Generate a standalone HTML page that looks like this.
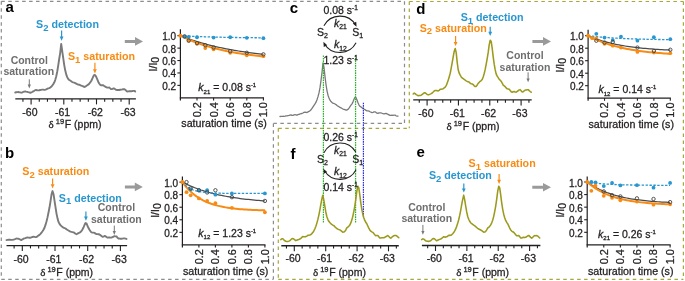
<!DOCTYPE html>
<html><head><meta charset="utf-8"><style>
html,body{margin:0;padding:0;background:#fff;}
svg{display:block;will-change:transform;font-family:"Liberation Sans", sans-serif;}
text:not([font-weight="bold"]){stroke:#231f20;stroke-width:0.28px;}
</style></head><body>
<svg xmlns="http://www.w3.org/2000/svg" width="685" height="281" viewBox="0 0 685 281">
<rect width="685" height="281" fill="#fff"/>
<line x1="1.3" y1="1.3" x2="404.5" y2="1.3" stroke="#8c8c8c" stroke-width="1.2" stroke-dasharray="3.5 3.45"/>
<line x1="1.3" y1="1.3" x2="1.3" y2="279.3" stroke="#8c8c8c" stroke-width="1.2" stroke-dasharray="3.5 3.45"/>
<line x1="404.5" y1="1.3" x2="404.5" y2="123.4" stroke="#8c8c8c" stroke-width="1.2" stroke-dasharray="3.5 3.45"/>
<line x1="273.4" y1="123.4" x2="404.5" y2="123.4" stroke="#8c8c8c" stroke-width="1.2" stroke-dasharray="3.5 3.45"/>
<line x1="273.4" y1="123.4" x2="273.4" y2="279.3" stroke="#8c8c8c" stroke-width="1.2" stroke-dasharray="3.5 3.45"/>
<line x1="1.3" y1="279.3" x2="273.4" y2="279.3" stroke="#8c8c8c" stroke-width="1.2" stroke-dasharray="3.5 3.45"/>
<line x1="409.3" y1="1.5" x2="683.4" y2="1.5" stroke="#aaa73a" stroke-width="1.2" stroke-dasharray="3.5 3.45"/>
<line x1="409.3" y1="1.5" x2="409.3" y2="128.3" stroke="#aaa73a" stroke-width="1.2" stroke-dasharray="3.5 3.45"/>
<line x1="683.4" y1="1.5" x2="683.4" y2="279.4" stroke="#aaa73a" stroke-width="1.2" stroke-dasharray="3.5 3.45"/>
<line x1="278.3" y1="128.3" x2="409.3" y2="128.3" stroke="#aaa73a" stroke-width="1.2" stroke-dasharray="3.5 3.45"/>
<line x1="278.3" y1="128.3" x2="278.3" y2="279.4" stroke="#aaa73a" stroke-width="1.2" stroke-dasharray="3.5 3.45"/>
<line x1="278.3" y1="279.4" x2="683.4" y2="279.4" stroke="#aaa73a" stroke-width="1.2" stroke-dasharray="3.5 3.45"/>
<text x="5.40" y="12.10" font-size="15" font-weight="bold" fill="#000" text-anchor="start">a</text>
<text x="4.90" y="158.00" font-size="15" font-weight="bold" fill="#000" text-anchor="start">b</text>
<text x="289.80" y="12.50" font-size="15" font-weight="bold" fill="#000" text-anchor="start">c</text>
<text x="416.30" y="13.60" font-size="15" font-weight="bold" fill="#000" text-anchor="start">d</text>
<text x="416.40" y="156.60" font-size="15" font-weight="bold" fill="#000" text-anchor="start">e</text>
<text x="290.60" y="158.50" font-size="15" font-weight="bold" fill="#000" text-anchor="start">f</text>
<path d="M15.20,92.52 L16.20,92.30 L17.20,92.08 L18.20,92.00 L19.20,92.27 L20.20,92.39 L21.20,92.69 L22.20,92.47 L23.20,91.99 L24.20,91.59 L25.20,91.33 L26.20,91.62 L27.20,91.88 L28.20,92.18 L29.20,92.44 L30.20,92.71 L31.20,92.52 L32.20,91.99 L33.20,91.35 L34.20,90.81 L35.20,90.19 L36.20,90.00 L37.20,90.24 L38.20,90.37 L39.20,90.21 L40.20,89.97 L41.20,89.86 L42.20,89.62 L43.20,89.65 L44.20,89.88 L45.20,89.74 L46.20,89.31 L47.20,88.82 L48.20,88.38 L49.20,88.06 L50.20,87.59 L51.20,86.78 L52.20,85.64 L53.20,84.27 L54.20,82.53 L55.20,80.12 L56.20,76.50 L57.20,71.75 L58.20,65.69 L59.20,58.99 L60.20,52.86 L61.20,43.88 L62.20,50.94 L63.20,57.86 L64.20,64.87 L65.20,70.33 L66.20,74.39 L67.20,77.13 L68.20,78.95 L69.20,79.97 L70.20,80.55 L71.20,81.23 L72.20,82.00 L73.20,82.44 L74.20,82.69 L75.20,83.04 L76.20,83.57 L77.20,84.14 L78.20,84.57 L79.20,84.76 L80.20,85.04 L81.20,85.53 L82.20,85.99 L83.20,86.42 L84.20,86.97 L85.20,86.66 L86.20,85.93 L87.20,85.28 L88.20,84.68 L89.20,83.75 L90.20,82.45 L91.20,81.00 L92.20,79.01 L93.20,76.59 L94.20,74.88 L95.20,75.18 L96.20,76.84 L97.20,79.16 L98.20,81.68 L99.20,83.50 L100.20,84.81 L101.20,85.41 L102.20,85.23 L103.20,85.24 L104.20,85.99 L105.20,86.57 L106.20,87.17 L107.20,87.61 L108.20,87.66 L109.20,87.57 L110.20,88.38 L111.20,89.16 L112.20,88.95 L113.20,88.51 L114.20,88.57 L115.20,89.21 L116.20,89.82 L117.20,90.02 L118.20,90.03 L119.20,90.01 L120.20,89.78 L121.20,89.59 L122.20,89.45 L123.20,89.21 L124.20,89.12 L125.20,89.76 L126.20,90.65 L127.20,91.46 L128.20,91.34 L129.20,91.21 L130.20,91.18 L131.20,91.23 L132.20,91.14 L133.20,90.84 L134.20,90.85 L135.20,91.42" fill="none" stroke="#7a7a7a" stroke-width="1.9" stroke-linejoin="round" stroke-linecap="round"/>
<line x1="15.3" y1="98.9" x2="135.9" y2="98.9" stroke="#231f20" stroke-width="1.4"/>
<line x1="22.93" y1="98.9" x2="22.93" y2="101.7" stroke="#231f20" stroke-width="1.1"/>
<line x1="31.10" y1="98.9" x2="31.10" y2="104.4" stroke="#231f20" stroke-width="1.1"/>
<line x1="39.27" y1="98.9" x2="39.27" y2="101.7" stroke="#231f20" stroke-width="1.1"/>
<line x1="47.45" y1="98.9" x2="47.45" y2="101.7" stroke="#231f20" stroke-width="1.1"/>
<line x1="55.62" y1="98.9" x2="55.62" y2="101.7" stroke="#231f20" stroke-width="1.1"/>
<line x1="63.80" y1="98.9" x2="63.80" y2="104.4" stroke="#231f20" stroke-width="1.1"/>
<line x1="71.97" y1="98.9" x2="71.97" y2="101.7" stroke="#231f20" stroke-width="1.1"/>
<line x1="80.15" y1="98.9" x2="80.15" y2="101.7" stroke="#231f20" stroke-width="1.1"/>
<line x1="88.32" y1="98.9" x2="88.32" y2="101.7" stroke="#231f20" stroke-width="1.1"/>
<line x1="96.50" y1="98.9" x2="96.50" y2="104.4" stroke="#231f20" stroke-width="1.1"/>
<line x1="104.67" y1="98.9" x2="104.67" y2="101.7" stroke="#231f20" stroke-width="1.1"/>
<line x1="112.85" y1="98.9" x2="112.85" y2="101.7" stroke="#231f20" stroke-width="1.1"/>
<line x1="121.02" y1="98.9" x2="121.02" y2="101.7" stroke="#231f20" stroke-width="1.1"/>
<line x1="129.20" y1="98.9" x2="129.20" y2="104.4" stroke="#231f20" stroke-width="1.1"/>
<text x="29.90" y="115.80" font-size="10.5" font-weight="normal" fill="#231f20" text-anchor="middle">-60</text>
<text x="62.60" y="115.80" font-size="10.5" font-weight="normal" fill="#231f20" text-anchor="middle">-61</text>
<text x="95.30" y="115.80" font-size="10.5" font-weight="normal" fill="#231f20" text-anchor="middle">-62</text>
<text x="128.00" y="115.80" font-size="10.5" font-weight="normal" fill="#231f20" text-anchor="middle">-63</text>
<text x="48.60" y="128.20" font-size="10.5" fill="#231f20"><tspan font-family="Liberation Serif" font-size="11">&#948;</tspan><tspan font-size="7.5" dy="-4" dx="2">19</tspan><tspan dy="4" dx="0.6">F (ppm)</tspan></text>
<text x="36.00" y="28.00" font-size="10.7" font-weight="bold" fill="#2896cf">S<tspan font-size="9.5" dy="2.8">2</tspan><tspan dy="-2.8"> detection</tspan></text>
<line x1="61.6" y1="30.6" x2="61.6" y2="37.099999999999994" stroke="#2896cf" stroke-width="1.2"/>
<path d="M59.70,36.60 L63.50,36.60 L61.60,40.80 Z" fill="#2896cf"/>
<text x="67.90" y="60.30" font-size="10.7" font-weight="bold" fill="#f88b14">S<tspan font-size="9.5" dy="2.8">1</tspan><tspan dy="-2.8"> saturation</tspan></text>
<line x1="94.9" y1="62.8" x2="94.9" y2="69.8" stroke="#f88b14" stroke-width="1.2"/>
<path d="M93.00,69.30 L96.80,69.30 L94.90,73.50 Z" fill="#f88b14"/>
<text x="29.30" y="63.50" font-size="10.5" font-weight="bold" fill="#6e6e6e" text-anchor="middle">Control</text>
<text x="28.80" y="74.70" font-size="10.5" font-weight="bold" fill="#6e6e6e" text-anchor="middle">saturation</text>
<line x1="29.3" y1="79.3" x2="29.3" y2="85.10000000000001" stroke="#777" stroke-width="1.0"/>
<path d="M27.70,84.60 L30.90,84.60 L29.30,88.40 Z" fill="#777"/>
<path d="M124.8,39.9 L135,39.9 L135,37.1 L143,41.4 L135,45.699999999999996 L135,42.9 L124.8,42.9 Z" fill="#9a9a9a"/>
<line x1="180.4" y1="29.299999999999997" x2="180.4" y2="100.39999999999999" stroke="#231f20" stroke-width="1.2"/>
<line x1="179.8" y1="97.8" x2="264.0" y2="97.8" stroke="#231f20" stroke-width="1.2"/>
<line x1="177.4" y1="85.38" x2="180.4" y2="85.38" stroke="#231f20" stroke-width="1.1"/>
<text x="176.10" y="89.88" font-size="10" font-weight="normal" fill="#231f20" text-anchor="end">0.2</text>
<line x1="177.4" y1="72.96" x2="180.4" y2="72.96" stroke="#231f20" stroke-width="1.1"/>
<text x="176.10" y="77.46" font-size="10" font-weight="normal" fill="#231f20" text-anchor="end">0.4</text>
<line x1="177.4" y1="60.54" x2="180.4" y2="60.54" stroke="#231f20" stroke-width="1.1"/>
<text x="176.10" y="65.04" font-size="10" font-weight="normal" fill="#231f20" text-anchor="end">0.6</text>
<line x1="177.4" y1="48.12" x2="180.4" y2="48.12" stroke="#231f20" stroke-width="1.1"/>
<text x="176.10" y="52.62" font-size="10" font-weight="normal" fill="#231f20" text-anchor="end">0.8</text>
<line x1="177.4" y1="35.70" x2="180.4" y2="35.70" stroke="#231f20" stroke-width="1.1"/>
<text x="176.10" y="40.20" font-size="10" font-weight="normal" fill="#231f20" text-anchor="end">1.0</text>
<line x1="197.00" y1="97.8" x2="197.00" y2="100.39999999999999" stroke="#231f20" stroke-width="1.1"/>
<text transform="translate(200.90,102.10) rotate(-90)" font-size="10.9" fill="#231f20" text-anchor="end">0.2</text>
<line x1="213.60" y1="97.8" x2="213.60" y2="100.39999999999999" stroke="#231f20" stroke-width="1.1"/>
<text transform="translate(217.50,102.10) rotate(-90)" font-size="10.9" fill="#231f20" text-anchor="end">0.4</text>
<line x1="230.20" y1="97.8" x2="230.20" y2="100.39999999999999" stroke="#231f20" stroke-width="1.1"/>
<text transform="translate(234.10,102.10) rotate(-90)" font-size="10.9" fill="#231f20" text-anchor="end">0.6</text>
<line x1="246.80" y1="97.8" x2="246.80" y2="100.39999999999999" stroke="#231f20" stroke-width="1.1"/>
<text transform="translate(250.70,102.10) rotate(-90)" font-size="10.9" fill="#231f20" text-anchor="end">0.8</text>
<line x1="263.40" y1="97.8" x2="263.40" y2="100.39999999999999" stroke="#231f20" stroke-width="1.1"/>
<text transform="translate(267.30,102.10) rotate(-90)" font-size="10.9" fill="#231f20" text-anchor="end">1.0</text>
<text transform="translate(156.80,71.40) rotate(-90)" font-size="10.5" fill="#231f20">I/I<tspan font-size="10.5" dy="2.0">0</tspan></text>
<text x="181.30" y="127.20" font-size="10.7" font-weight="normal" fill="#231f20" text-anchor="start">saturation time (s)</text>
<text x="198.30" y="91.40" font-size="10.5" fill="#231f20"><tspan font-style="italic">k</tspan><tspan font-size="6.1" dy="2.3">21</tspan><tspan dy="-2.3"> = 0.08 s</tspan><tspan font-size="5.9" dy="-4.1">-1</tspan></text>
<path d="M180.40,35.70 L182.47,36.52 L184.55,37.31 L186.62,38.08 L188.70,38.82 L190.78,39.54 L192.85,40.24 L194.93,40.91 L197.00,41.56 L199.08,42.19 L201.15,42.81 L203.23,43.40 L205.30,43.97 L207.38,44.52 L209.45,45.06 L211.53,45.58 L213.60,46.08 L215.68,46.57 L217.75,47.04 L219.82,47.50 L221.90,47.94 L223.98,48.37 L226.05,48.78 L228.12,49.18 L230.20,49.57 L232.28,49.95 L234.35,50.31 L236.43,50.66 L238.50,51.00 L240.57,51.33 L242.65,51.65 L244.73,51.96 L246.80,52.26 L248.88,52.55 L250.95,52.83 L253.03,53.10 L255.10,53.36 L257.18,53.62 L259.25,53.86 L261.32,54.10 L263.40,54.33" fill="none" stroke="#4a4a4a" stroke-width="1.25"/>
<path d="M180.40,35.70 L182.47,36.72 L184.55,37.70 L186.62,38.65 L188.70,39.55 L190.78,40.42 L192.85,41.26 L194.93,42.07 L197.00,42.84 L199.08,43.58 L201.15,44.29 L203.23,44.98 L205.30,45.64 L207.38,46.27 L209.45,46.88 L211.53,47.46 L213.60,48.02 L215.68,48.56 L217.75,49.08 L219.82,49.58 L221.90,50.05 L223.98,50.51 L226.05,50.95 L228.12,51.38 L230.20,51.79 L232.28,52.18 L234.35,52.55 L236.43,52.91 L238.50,53.26 L240.57,53.59 L242.65,53.92 L244.73,54.22 L246.80,54.52 L248.88,54.80 L250.95,55.08 L253.03,55.34 L255.10,55.59 L257.18,55.83 L259.25,56.07 L261.32,56.29 L263.40,56.50" fill="none" stroke="#f88b14" stroke-width="2.0"/>
<path d="M180.40,35.70 L182.47,35.82 L184.55,35.93 L186.62,36.04 L188.70,36.14 L190.78,36.24 L192.85,36.33 L194.93,36.42 L197.00,36.51 L199.08,36.58 L201.15,36.66 L203.23,36.73 L205.30,36.80 L207.38,36.87 L209.45,36.93 L211.53,36.99 L213.60,37.04 L215.68,37.10 L217.75,37.15 L219.82,37.20 L221.90,37.24 L223.98,37.29 L226.05,37.33 L228.12,37.37 L230.20,37.41 L232.28,37.44 L234.35,37.48 L236.43,37.51 L238.50,37.54 L240.57,37.57 L242.65,37.60 L244.73,37.62 L246.80,37.65 L248.88,37.67 L250.95,37.70 L253.03,37.72 L255.10,37.74 L257.18,37.76 L259.25,37.78 L261.32,37.79 L263.40,37.81" fill="none" stroke="#2896cf" stroke-width="1.3" stroke-dasharray="2.4 1.5"/>
<circle cx="184.55" cy="36.63" r="1.9" fill="#2896cf"/>
<circle cx="188.70" cy="36.94" r="1.9" fill="#2896cf"/>
<circle cx="197.00" cy="37.25" r="1.9" fill="#2896cf"/>
<circle cx="213.60" cy="37.56" r="1.9" fill="#2896cf"/>
<circle cx="230.20" cy="37.25" r="1.9" fill="#2896cf"/>
<circle cx="246.80" cy="37.87" r="1.9" fill="#2896cf"/>
<circle cx="263.40" cy="38.18" r="1.9" fill="#2896cf"/>
<circle cx="188.70" cy="40.67" r="1.9" fill="#f88b14"/>
<circle cx="197.00" cy="43.77" r="1.9" fill="#f88b14"/>
<circle cx="205.30" cy="48.12" r="1.9" fill="#f88b14"/>
<circle cx="213.60" cy="49.36" r="1.9" fill="#f88b14"/>
<circle cx="230.20" cy="52.78" r="1.9" fill="#f88b14"/>
<circle cx="246.80" cy="55.26" r="1.9" fill="#f88b14"/>
<circle cx="263.40" cy="56.19" r="1.9" fill="#f88b14"/>
<circle cx="184.55" cy="36.32" r="1.7" fill="none" stroke="#444" stroke-width="0.9"/>
<circle cx="188.70" cy="40.67" r="1.7" fill="none" stroke="#444" stroke-width="0.9"/>
<circle cx="197.00" cy="43.15" r="1.7" fill="none" stroke="#444" stroke-width="0.9"/>
<circle cx="205.30" cy="45.26" r="1.7" fill="none" stroke="#444" stroke-width="0.9"/>
<circle cx="213.60" cy="47.50" r="1.7" fill="none" stroke="#444" stroke-width="0.9"/>
<circle cx="230.20" cy="51.22" r="1.7" fill="none" stroke="#444" stroke-width="0.9"/>
<circle cx="246.80" cy="52.78" r="1.7" fill="none" stroke="#444" stroke-width="0.9"/>
<circle cx="263.40" cy="54.33" r="1.7" fill="none" stroke="#444" stroke-width="0.9"/>
<circle cx="180.40" cy="35.70" r="2" fill="#f88b14"/>
<path d="M6.50,240.08 L7.50,239.90 L8.50,239.72 L9.50,239.62 L10.50,239.79 L11.50,239.89 L12.50,239.90 L13.50,239.59 L14.50,239.36 L15.50,238.98 L16.50,238.51 L17.50,238.59 L18.50,238.79 L19.50,239.22 L20.50,239.76 L21.50,240.08 L22.50,239.35 L23.50,238.68 L24.50,238.31 L25.50,238.08 L26.50,237.63 L27.50,237.49 L28.50,237.65 L29.50,237.75 L30.50,237.74 L31.50,237.31 L32.50,236.96 L33.50,236.69 L34.50,236.87 L35.50,237.09 L36.50,236.94 L37.50,236.35 L38.50,235.61 L39.50,234.89 L40.50,233.93 L41.50,232.73 L42.50,231.31 L43.50,229.75 L44.50,227.78 L45.50,224.94 L46.50,221.44 L47.50,217.38 L48.50,212.53 L49.50,207.55 L50.50,201.31 L51.50,194.55 L52.50,191.08 L53.50,193.98 L54.50,200.61 L55.50,207.23 L56.50,213.60 L57.50,218.36 L58.50,221.92 L59.50,223.92 L60.50,225.20 L61.50,226.10 L62.50,227.03 L63.50,227.67 L64.50,228.15 L65.50,228.45 L66.50,229.31 L67.50,230.00 L68.50,230.48 L69.50,231.05 L70.50,231.55 L71.50,231.89 L72.50,232.13 L73.50,232.40 L74.50,232.95 L75.50,233.76 L76.50,234.26 L77.50,233.69 L78.50,233.12 L79.50,232.72 L80.50,232.03 L81.50,230.90 L82.50,229.42 L83.50,227.49 L84.50,225.01 L85.50,223.05 L86.50,223.40 L87.50,225.76 L88.50,228.02 L89.50,229.80 L90.50,231.36 L91.50,232.36 L92.50,232.63 L93.50,232.61 L94.50,232.87 L95.50,233.66 L96.50,234.10 L97.50,234.10 L98.50,234.22 L99.50,234.49 L100.50,235.28 L101.50,236.08 L102.50,236.83 L103.50,236.68 L104.50,235.94 L105.50,236.20 L106.50,236.99 L107.50,237.57 L108.50,237.46 L109.50,237.47 L110.50,237.62 L111.50,237.53 L112.50,237.19 L113.50,236.61 L114.50,236.15 L115.50,236.33 L116.50,236.43 L117.50,237.80 L118.50,238.65 L119.50,238.57 L120.50,238.71 L121.50,238.77 L122.50,238.63 L123.50,238.41 L124.50,238.35 L125.50,238.61 L126.50,238.92" fill="none" stroke="#7a7a7a" stroke-width="1.9" stroke-linejoin="round" stroke-linecap="round"/>
<line x1="6.5" y1="245.6" x2="127.1" y2="245.6" stroke="#231f20" stroke-width="1.4"/>
<line x1="14.12" y1="245.6" x2="14.12" y2="248.4" stroke="#231f20" stroke-width="1.1"/>
<line x1="22.30" y1="245.6" x2="22.30" y2="251.1" stroke="#231f20" stroke-width="1.1"/>
<line x1="30.48" y1="245.6" x2="30.48" y2="248.4" stroke="#231f20" stroke-width="1.1"/>
<line x1="38.65" y1="245.6" x2="38.65" y2="248.4" stroke="#231f20" stroke-width="1.1"/>
<line x1="46.83" y1="245.6" x2="46.83" y2="248.4" stroke="#231f20" stroke-width="1.1"/>
<line x1="55.00" y1="245.6" x2="55.00" y2="251.1" stroke="#231f20" stroke-width="1.1"/>
<line x1="63.17" y1="245.6" x2="63.17" y2="248.4" stroke="#231f20" stroke-width="1.1"/>
<line x1="71.35" y1="245.6" x2="71.35" y2="248.4" stroke="#231f20" stroke-width="1.1"/>
<line x1="79.52" y1="245.6" x2="79.52" y2="248.4" stroke="#231f20" stroke-width="1.1"/>
<line x1="87.70" y1="245.6" x2="87.70" y2="251.1" stroke="#231f20" stroke-width="1.1"/>
<line x1="95.87" y1="245.6" x2="95.87" y2="248.4" stroke="#231f20" stroke-width="1.1"/>
<line x1="104.05" y1="245.6" x2="104.05" y2="248.4" stroke="#231f20" stroke-width="1.1"/>
<line x1="112.22" y1="245.6" x2="112.22" y2="248.4" stroke="#231f20" stroke-width="1.1"/>
<line x1="120.40" y1="245.6" x2="120.40" y2="251.1" stroke="#231f20" stroke-width="1.1"/>
<text x="21.10" y="262.50" font-size="10.5" font-weight="normal" fill="#231f20" text-anchor="middle">-60</text>
<text x="53.80" y="262.50" font-size="10.5" font-weight="normal" fill="#231f20" text-anchor="middle">-61</text>
<text x="86.50" y="262.50" font-size="10.5" font-weight="normal" fill="#231f20" text-anchor="middle">-62</text>
<text x="119.20" y="262.50" font-size="10.5" font-weight="normal" fill="#231f20" text-anchor="middle">-63</text>
<text x="40.20" y="275.50" font-size="10.5" fill="#231f20"><tspan font-family="Liberation Serif" font-size="11">&#948;</tspan><tspan font-size="7.5" dy="-4" dx="2">19</tspan><tspan dy="4" dx="0.6">F (ppm)</tspan></text>
<text x="22.30" y="174.90" font-size="10.7" font-weight="bold" fill="#f88b14">S<tspan font-size="9.5" dy="2.8">2</tspan><tspan dy="-2.8"> saturation</tspan></text>
<line x1="52.6" y1="178.4" x2="52.6" y2="184.8" stroke="#f88b14" stroke-width="1.2"/>
<path d="M50.70,184.30 L54.50,184.30 L52.60,188.50 Z" fill="#f88b14"/>
<text x="58.80" y="201.60" font-size="10.7" font-weight="bold" fill="#2896cf">S<tspan font-size="9.5" dy="2.8">1</tspan><tspan dy="-2.8"> detection</tspan></text>
<line x1="85.9" y1="211.4" x2="85.9" y2="217.10000000000002" stroke="#2896cf" stroke-width="1.2"/>
<path d="M84.00,216.60 L87.80,216.60 L85.90,220.80 Z" fill="#2896cf"/>
<text x="116.40" y="211.40" font-size="10.5" font-weight="bold" fill="#6e6e6e" text-anchor="middle">Control</text>
<text x="116.40" y="223.40" font-size="10.5" font-weight="bold" fill="#6e6e6e" text-anchor="middle">saturation</text>
<line x1="114.3" y1="225.6" x2="114.3" y2="231.6" stroke="#777" stroke-width="1.0"/>
<path d="M112.70,231.10 L115.90,231.10 L114.30,234.90 Z" fill="#777"/>
<path d="M124.9,185.4 L134.8,185.4 L134.8,182.6 L142.8,186.9 L134.8,191.20000000000002 L134.8,188.4 L124.9,188.4 Z" fill="#9a9a9a"/>
<line x1="182.4" y1="176.4" x2="182.4" y2="247.5" stroke="#231f20" stroke-width="1.2"/>
<line x1="181.8" y1="244.9" x2="265.5" y2="244.9" stroke="#231f20" stroke-width="1.2"/>
<line x1="179.4" y1="232.34" x2="182.4" y2="232.34" stroke="#231f20" stroke-width="1.1"/>
<text x="178.10" y="236.84" font-size="10" font-weight="normal" fill="#231f20" text-anchor="end">0.2</text>
<line x1="179.4" y1="219.78" x2="182.4" y2="219.78" stroke="#231f20" stroke-width="1.1"/>
<text x="178.10" y="224.28" font-size="10" font-weight="normal" fill="#231f20" text-anchor="end">0.4</text>
<line x1="179.4" y1="207.22" x2="182.4" y2="207.22" stroke="#231f20" stroke-width="1.1"/>
<text x="178.10" y="211.72" font-size="10" font-weight="normal" fill="#231f20" text-anchor="end">0.6</text>
<line x1="179.4" y1="194.66" x2="182.4" y2="194.66" stroke="#231f20" stroke-width="1.1"/>
<text x="178.10" y="199.16" font-size="10" font-weight="normal" fill="#231f20" text-anchor="end">0.8</text>
<line x1="179.4" y1="182.10" x2="182.4" y2="182.10" stroke="#231f20" stroke-width="1.1"/>
<text x="178.10" y="186.60" font-size="10" font-weight="normal" fill="#231f20" text-anchor="end">1.0</text>
<line x1="198.90" y1="244.9" x2="198.90" y2="247.5" stroke="#231f20" stroke-width="1.1"/>
<text transform="translate(202.80,249.20) rotate(-90)" font-size="10.9" fill="#231f20" text-anchor="end">0.2</text>
<line x1="215.40" y1="244.9" x2="215.40" y2="247.5" stroke="#231f20" stroke-width="1.1"/>
<text transform="translate(219.30,249.20) rotate(-90)" font-size="10.9" fill="#231f20" text-anchor="end">0.4</text>
<line x1="231.90" y1="244.9" x2="231.90" y2="247.5" stroke="#231f20" stroke-width="1.1"/>
<text transform="translate(235.80,249.20) rotate(-90)" font-size="10.9" fill="#231f20" text-anchor="end">0.6</text>
<line x1="248.40" y1="244.9" x2="248.40" y2="247.5" stroke="#231f20" stroke-width="1.1"/>
<text transform="translate(252.30,249.20) rotate(-90)" font-size="10.9" fill="#231f20" text-anchor="end">0.8</text>
<line x1="264.90" y1="244.9" x2="264.90" y2="247.5" stroke="#231f20" stroke-width="1.1"/>
<text transform="translate(268.80,249.20) rotate(-90)" font-size="10.9" fill="#231f20" text-anchor="end">1.0</text>
<text transform="translate(158.60,217.80) rotate(-90)" font-size="10.5" fill="#231f20">I/I<tspan font-size="10.5" dy="2.0">0</tspan></text>
<text x="182.90" y="275.40" font-size="10.7" font-weight="normal" fill="#231f20" text-anchor="start">saturation time (s)</text>
<text x="198.30" y="236.60" font-size="10.5" fill="#231f20"><tspan font-style="italic">k</tspan><tspan font-size="6.1" dy="2.3">12</tspan><tspan dy="-2.3"> = 1.23 s</tspan><tspan font-size="5.9" dy="-4.1">-1</tspan></text>
<path d="M182.40,182.10 L184.46,183.16 L186.53,184.17 L188.59,185.14 L190.65,186.05 L192.71,186.92 L194.78,187.75 L196.84,188.53 L198.90,189.28 L200.96,190.00 L203.03,190.67 L205.09,191.32 L207.15,191.93 L209.21,192.51 L211.28,193.07 L213.34,193.60 L215.40,194.10 L217.46,194.58 L219.53,195.03 L221.59,195.46 L223.65,195.87 L225.71,196.26 L227.78,196.64 L229.84,196.99 L231.90,197.33 L233.96,197.65 L236.03,197.95 L238.09,198.24 L240.15,198.52 L242.21,198.78 L244.28,199.03 L246.34,199.26 L248.40,199.49 L250.46,199.70 L252.53,199.91 L254.59,200.10 L256.65,200.29 L258.71,200.46 L260.77,200.63 L262.84,200.79 L264.90,200.94" fill="none" stroke="#4a4a4a" stroke-width="1.25"/>
<path d="M182.40,182.10 L184.46,184.84 L186.53,187.32 L188.59,189.56 L190.65,191.59 L192.71,193.43 L194.78,195.09 L196.84,196.59 L198.90,197.95 L200.96,199.18 L203.03,200.30 L205.09,201.30 L207.15,202.22 L209.21,203.04 L211.28,203.79 L213.34,204.46 L215.40,205.08 L217.46,205.63 L219.53,206.13 L221.59,206.58 L223.65,206.99 L225.71,207.36 L227.78,207.70 L229.84,208.00 L231.90,208.28 L233.96,208.52 L236.03,208.75 L238.09,208.95 L240.15,209.14 L242.21,209.30 L244.28,209.45 L246.34,209.59 L248.40,209.71 L250.46,209.83 L252.53,209.93 L254.59,210.02 L256.65,210.10 L258.71,210.18 L260.77,210.24 L262.84,210.30 L264.90,210.36" fill="none" stroke="#f88b14" stroke-width="2.0"/>
<path d="M182.40,182.10 L184.46,184.38 L186.53,186.20 L188.59,187.65 L190.65,188.81 L192.71,189.74 L194.78,190.47 L196.84,191.07 L198.90,191.54 L200.96,191.91 L203.03,192.21 L205.09,192.45 L207.15,192.65 L209.21,192.80 L211.28,192.92 L213.34,193.02 L215.40,193.10 L217.46,193.16 L219.53,193.21 L221.59,193.25 L223.65,193.28 L225.71,193.31 L227.78,193.33 L229.84,193.34 L231.90,193.35 L233.96,193.36 L236.03,193.37 L238.09,193.38 L240.15,193.38 L242.21,193.39 L244.28,193.39 L246.34,193.39 L248.40,193.40 L250.46,193.40 L252.53,193.40 L254.59,193.40 L256.65,193.40 L258.71,193.40 L260.77,193.40 L262.84,193.40 L264.90,193.40" fill="none" stroke="#2896cf" stroke-width="1.3" stroke-dasharray="2.4 1.5"/>
<circle cx="190.65" cy="189.32" r="1.9" fill="#2896cf"/>
<circle cx="198.90" cy="190.26" r="1.9" fill="#2896cf"/>
<circle cx="207.15" cy="190.26" r="1.9" fill="#2896cf"/>
<circle cx="215.40" cy="194.66" r="1.9" fill="#2896cf"/>
<circle cx="231.90" cy="193.40" r="1.9" fill="#2896cf"/>
<circle cx="264.90" cy="193.40" r="1.9" fill="#2896cf"/>
<circle cx="186.53" cy="192.15" r="1.9" fill="#f88b14"/>
<circle cx="190.65" cy="195.29" r="1.9" fill="#f88b14"/>
<circle cx="198.90" cy="198.43" r="1.9" fill="#f88b14"/>
<circle cx="207.15" cy="200.94" r="1.9" fill="#f88b14"/>
<circle cx="215.40" cy="203.14" r="1.9" fill="#f88b14"/>
<circle cx="231.90" cy="207.85" r="1.9" fill="#f88b14"/>
<circle cx="264.90" cy="212.24" r="1.9" fill="#f88b14"/>
<circle cx="186.53" cy="182.10" r="1.7" fill="none" stroke="#444" stroke-width="0.9"/>
<circle cx="190.65" cy="188.38" r="1.7" fill="none" stroke="#444" stroke-width="0.9"/>
<circle cx="198.90" cy="190.26" r="1.7" fill="none" stroke="#444" stroke-width="0.9"/>
<circle cx="207.15" cy="192.46" r="1.7" fill="none" stroke="#444" stroke-width="0.9"/>
<circle cx="215.40" cy="190.26" r="1.7" fill="none" stroke="#444" stroke-width="0.9"/>
<circle cx="231.90" cy="197.17" r="1.7" fill="none" stroke="#444" stroke-width="0.9"/>
<circle cx="264.90" cy="200.94" r="1.7" fill="none" stroke="#444" stroke-width="0.9"/>
<circle cx="182.40" cy="182.10" r="2" fill="#f88b14"/>
<path d="M280.00,116.48 L281.00,116.39 L282.00,116.46 L283.00,116.27 L284.00,116.29 L285.00,116.09 L286.00,115.80 L287.00,115.78 L288.00,115.59 L289.00,115.43 L290.00,115.10 L291.00,114.95 L292.00,115.40 L293.00,115.47 L294.00,114.78 L295.00,114.53 L296.00,115.01 L297.00,115.15 L298.00,114.59 L299.00,114.25 L300.00,114.02 L301.00,113.60 L302.00,113.48 L303.00,113.01 L304.00,112.27 L305.00,112.07 L306.00,112.40 L307.00,112.50 L308.00,111.91 L309.00,111.39 L310.00,110.76 L311.00,109.76 L312.00,108.47 L313.00,106.90 L314.00,105.30 L315.00,103.89 L316.00,102.14 L317.00,99.73 L318.00,96.66 L319.00,92.89 L320.00,87.70 L321.00,80.61 L322.00,72.50 L323.00,62.89 L324.00,67.45 L325.00,76.65 L326.00,84.49 L327.00,90.81 L328.00,95.20 L329.00,97.95 L330.00,100.15 L331.00,101.60 L332.00,102.52 L333.00,103.30 L334.00,103.47 L335.00,104.01 L336.00,104.61 L337.00,105.49 L338.00,106.14 L339.00,106.70 L340.00,107.35 L341.00,107.82 L342.00,108.45 L343.00,109.05 L344.00,109.33 L345.00,109.70 L346.00,110.11 L347.00,110.01 L348.00,109.34 L349.00,108.03 L350.00,106.65 L351.00,105.21 L352.00,103.86 L353.00,101.84 L354.00,99.23 L355.00,97.21 L356.00,97.67 L357.00,99.92 L358.00,102.70 L359.00,105.08 L360.00,106.36 L361.00,106.90 L362.00,107.67 L363.00,108.74 L364.00,109.18 L365.00,109.59 L366.00,110.40 L367.00,110.90 L368.00,110.83 L369.00,111.04 L370.00,111.70 L371.00,112.24 L372.00,112.52 L373.00,112.30 L374.00,111.83 L375.00,111.80 L376.00,112.39 L377.00,113.23 L378.00,113.44 L379.00,112.93 L380.00,112.80 L381.00,112.96 L382.00,113.25 L383.00,113.72 L384.00,113.91 L385.00,113.54 L386.00,113.43 L387.00,113.88 L388.00,114.31 L389.00,114.87 L390.00,115.42 L391.00,115.37 L392.00,115.20 L393.00,115.34 L394.00,115.19 L395.00,115.07 L396.00,115.72 L397.00,116.22 L398.00,116.11" fill="none" stroke="#7a7a7a" stroke-width="1.3" stroke-linejoin="round" stroke-linecap="round"/>
<line x1="323.4" y1="55.5" x2="323.4" y2="222.4" stroke="#22b422" stroke-width="1.15" stroke-dasharray="1.6 0.8"/>
<line x1="355.6" y1="55.5" x2="355.6" y2="222.4" stroke="#22b422" stroke-width="1.15" stroke-dasharray="1.6 0.8"/>
<line x1="363.4" y1="102.7" x2="363.4" y2="216.6" stroke="#2a2ae6" stroke-width="1.15" stroke-dasharray="1.6 0.8"/>
<path d="M323.93,25.76 A18.2,18.2 0 0 1 355.76,25.20" fill="none" stroke="#231f20" stroke-width="1.05"/>
<path d="M356.58,26.77 L352.81,23.38 L356.22,21.71 Z" fill="#231f20"/>
<path d="M356.07,42.84 A18.2,18.2 0 0 1 324.24,43.40" fill="none" stroke="#231f20" stroke-width="1.05"/>
<path d="M323.42,41.83 L327.19,45.22 L323.78,46.89 Z" fill="#231f20"/>
<text x="317.00" y="36.10" font-size="10.5" font-weight="normal" fill="#231f20">S<tspan font-size="7" dy="2.3">2</tspan><tspan dy="-2.3"></tspan></text>
<text x="352.20" y="36.10" font-size="10.5" font-weight="normal" fill="#231f20">S<tspan font-size="7" dy="2.3">1</tspan><tspan dy="-2.3"></tspan></text>
<text x="334.00" y="26.60" font-size="10.5" fill="#231f20"><tspan font-style="italic">k</tspan><tspan font-size="6.8" dy="2.3">21</tspan></text>
<text x="334.00" y="48.40" font-size="10.5" fill="#231f20"><tspan font-style="italic">k</tspan><tspan font-size="6.8" dy="2.3">12</tspan></text>
<text x="323.50" y="13.80" font-size="10.5" fill="#231f20">0.08 s<tspan font-size="6.5" dy="-4">-1</tspan></text>
<text x="323.50" y="64.00" font-size="10.5" fill="#231f20">1.23 s<tspan font-size="6.5" dy="-4">-1</tspan></text>
<path d="M280.80,239.57 L281.80,238.75 L282.80,238.75 L283.80,239.84 L284.80,240.81 L285.80,241.31 L286.80,241.56 L287.80,241.43 L288.80,241.12 L289.80,240.78 L290.80,239.70 L291.80,238.74 L292.80,238.61 L293.80,238.94 L294.80,239.91 L295.80,240.64 L296.80,240.17 L297.80,239.78 L298.80,239.45 L299.80,239.05 L300.80,238.35 L301.80,237.40 L302.80,236.57 L303.80,236.70 L304.80,236.68 L305.80,236.61 L306.80,236.09 L307.80,235.38 L308.80,235.19 L309.80,234.92 L310.80,234.57 L311.80,233.65 L312.80,232.58 L313.80,230.97 L314.80,229.02 L315.80,226.45 L316.80,223.37 L317.80,219.64 L318.80,215.31 L319.80,210.30 L320.80,204.62 L321.80,199.29 L322.80,195.26 L323.80,199.89 L324.80,206.06 L325.80,211.96 L326.80,216.54 L327.80,219.34 L328.80,221.27 L329.80,222.54 L330.80,223.55 L331.80,224.38 L332.80,225.09 L333.80,225.66 L334.80,226.66 L335.80,227.73 L336.80,228.50 L337.80,229.09 L338.80,229.56 L339.80,229.87 L340.80,230.49 L341.80,231.34 L342.80,232.17 L343.80,232.10 L344.80,231.42 L345.80,229.95 L346.80,227.93 L347.80,227.13 L348.80,226.22 L349.80,225.06 L350.80,222.89 L351.80,220.11 L352.80,216.33 L353.80,211.56 L354.80,206.05 L355.80,199.06 L356.80,191.38 L357.80,186.24 L358.80,187.87 L359.80,194.90 L360.80,202.79 L361.80,209.28 L362.80,214.17 L363.80,217.80 L364.80,220.45 L365.80,222.30 L366.80,223.78 L367.80,225.99 L368.80,228.08 L369.80,229.93 L370.80,231.17 L371.80,231.84 L372.80,232.33 L373.80,233.54 L374.80,234.68 L375.80,235.68 L376.80,235.53 L377.80,235.44 L378.80,236.68 L379.80,238.00 L380.80,238.00 L381.80,237.83 L382.80,237.67 L383.80,237.61 L384.80,237.46 L385.80,236.74 L386.80,236.06 L387.80,235.47 L388.80,236.46 L389.80,237.51 L390.80,238.23 L391.80,237.25 L392.80,236.34 L393.80,235.78 L394.80,235.58 L395.80,235.43 L396.80,236.00 L397.80,236.88 L398.80,237.79" fill="none" stroke="#9c9a1c" stroke-width="1.55" stroke-linejoin="round" stroke-linecap="round"/>
<line x1="281.3" y1="245.8" x2="398.8" y2="245.8" stroke="#231f20" stroke-width="1.4"/>
<line x1="286.45" y1="245.8" x2="286.45" y2="248.60000000000002" stroke="#231f20" stroke-width="1.1"/>
<line x1="294.30" y1="245.8" x2="294.30" y2="251.3" stroke="#231f20" stroke-width="1.1"/>
<line x1="302.15" y1="245.8" x2="302.15" y2="248.60000000000002" stroke="#231f20" stroke-width="1.1"/>
<line x1="310.00" y1="245.8" x2="310.00" y2="248.60000000000002" stroke="#231f20" stroke-width="1.1"/>
<line x1="317.85" y1="245.8" x2="317.85" y2="248.60000000000002" stroke="#231f20" stroke-width="1.1"/>
<line x1="325.70" y1="245.8" x2="325.70" y2="251.3" stroke="#231f20" stroke-width="1.1"/>
<line x1="333.55" y1="245.8" x2="333.55" y2="248.60000000000002" stroke="#231f20" stroke-width="1.1"/>
<line x1="341.40" y1="245.8" x2="341.40" y2="248.60000000000002" stroke="#231f20" stroke-width="1.1"/>
<line x1="349.25" y1="245.8" x2="349.25" y2="248.60000000000002" stroke="#231f20" stroke-width="1.1"/>
<line x1="357.10" y1="245.8" x2="357.10" y2="251.3" stroke="#231f20" stroke-width="1.1"/>
<line x1="364.95" y1="245.8" x2="364.95" y2="248.60000000000002" stroke="#231f20" stroke-width="1.1"/>
<line x1="372.80" y1="245.8" x2="372.80" y2="248.60000000000002" stroke="#231f20" stroke-width="1.1"/>
<line x1="380.65" y1="245.8" x2="380.65" y2="248.60000000000002" stroke="#231f20" stroke-width="1.1"/>
<line x1="388.50" y1="245.8" x2="388.50" y2="251.3" stroke="#231f20" stroke-width="1.1"/>
<line x1="396.35" y1="245.8" x2="396.35" y2="248.60000000000002" stroke="#231f20" stroke-width="1.1"/>
<text x="293.10" y="261.60" font-size="10.5" font-weight="normal" fill="#231f20" text-anchor="middle">-60</text>
<text x="324.60" y="261.60" font-size="10.5" font-weight="normal" fill="#231f20" text-anchor="middle">-61</text>
<text x="356.20" y="261.60" font-size="10.5" font-weight="normal" fill="#231f20" text-anchor="middle">-62</text>
<text x="387.30" y="261.60" font-size="10.5" font-weight="normal" fill="#231f20" text-anchor="middle">-63</text>
<text x="313.00" y="275.60" font-size="10.5" fill="#231f20"><tspan font-family="Liberation Serif" font-size="11">&#948;</tspan><tspan font-size="7.5" dy="-4" dx="2">19</tspan><tspan dy="4" dx="0.6">F (ppm)</tspan></text>
<path d="M323.93,152.66 A18.2,18.2 0 0 1 355.76,152.10" fill="none" stroke="#231f20" stroke-width="1.05"/>
<path d="M356.07,169.74 A18.2,18.2 0 0 1 324.24,170.30" fill="none" stroke="#231f20" stroke-width="1.05"/>
<path d="M323.42,168.73 L327.19,172.12 L323.78,173.79 Z" fill="#231f20"/>
<text x="317.00" y="163.10" font-size="10.5" font-weight="normal" fill="#231f20">S<tspan font-size="7" dy="2.3">2</tspan><tspan dy="-2.3"></tspan></text>
<text x="352.20" y="163.10" font-size="10.5" font-weight="normal" fill="#231f20">S<tspan font-size="7" dy="2.3">1</tspan><tspan dy="-2.3"></tspan></text>
<text x="334.00" y="153.60" font-size="10.5" fill="#231f20"><tspan font-style="italic">k</tspan><tspan font-size="6.8" dy="2.3">21</tspan></text>
<text x="334.00" y="175.40" font-size="10.5" fill="#231f20"><tspan font-style="italic">k</tspan><tspan font-size="6.8" dy="2.3">12</tspan></text>
<text x="323.50" y="140.50" font-size="10.5" fill="#231f20">0.26 s<tspan font-size="6.5" dy="-4">-1</tspan></text>
<text x="323.50" y="190.60" font-size="10.5" fill="#231f20">0.14 s<tspan font-size="6.5" dy="-4">-1</tspan></text>
<path d="M413.20,94.00 L414.20,93.08 L415.20,93.67 L416.20,94.55 L417.20,95.20 L418.20,95.78 L419.20,95.53 L420.20,95.42 L421.20,95.24 L422.20,94.48 L423.20,93.60 L424.20,92.73 L425.20,92.86 L426.20,93.63 L427.20,94.53 L428.20,94.85 L429.20,94.51 L430.20,94.10 L431.20,93.58 L432.20,93.00 L433.20,92.00 L434.20,90.95 L435.20,90.57 L436.20,90.50 L437.20,90.63 L438.20,90.90 L439.20,90.34 L440.20,89.32 L441.20,89.28 L442.20,89.11 L443.20,88.71 L444.20,87.99 L445.20,87.08 L446.20,85.67 L447.20,83.00 L448.20,80.14 L449.20,77.09 L450.20,73.23 L451.20,68.20 L452.20,62.68 L453.20,56.79 L454.20,51.43 L455.20,48.51 L456.20,52.68 L457.20,62.32 L458.20,69.76 L459.20,73.19 L460.20,75.16 L461.20,76.92 L462.20,78.00 L463.20,78.68 L464.20,79.48 L465.20,80.18 L466.20,80.87 L467.20,81.44 L468.20,81.72 L469.20,82.12 L470.20,83.21 L471.20,83.71 L472.20,83.91 L473.20,84.63 L474.20,85.78 L475.20,86.50 L476.20,86.40 L477.20,84.96 L478.20,83.29 L479.20,82.34 L480.20,81.29 L481.20,80.58 L482.20,79.45 L483.20,76.93 L484.20,73.55 L485.20,69.43 L486.20,64.20 L487.20,58.61 L488.20,52.40 L489.20,44.89 L490.20,40.20 L491.20,41.51 L492.20,48.39 L493.20,56.94 L494.20,64.16 L495.20,69.88 L496.20,74.06 L497.20,76.19 L498.20,77.69 L499.20,79.25 L500.20,80.33 L501.20,81.38 L502.20,83.14 L503.20,85.05 L504.20,85.81 L505.20,86.65 L506.20,87.89 L507.20,88.83 L508.20,88.99 L509.20,89.31 L510.20,90.48 L511.20,91.75 L512.20,92.17 L513.20,91.76 L514.20,91.49 L515.20,92.01 L516.20,92.15 L517.20,91.43 L518.20,90.74 L519.20,89.94 L520.20,89.63 L521.20,90.88 L522.20,91.98 L523.20,91.81 L524.20,90.77 L525.20,90.06 L526.20,89.97 L527.20,89.71 L528.20,89.65 L529.20,90.65 L530.20,91.54 L531.20,92.22" fill="none" stroke="#9c9a1c" stroke-width="1.55" stroke-linejoin="round" stroke-linecap="round"/>
<line x1="413.2" y1="99.9" x2="531.7" y2="99.9" stroke="#231f20" stroke-width="1.4"/>
<line x1="419.27" y1="99.9" x2="419.27" y2="102.7" stroke="#231f20" stroke-width="1.1"/>
<line x1="427.10" y1="99.9" x2="427.10" y2="105.4" stroke="#231f20" stroke-width="1.1"/>
<line x1="434.93" y1="99.9" x2="434.93" y2="102.7" stroke="#231f20" stroke-width="1.1"/>
<line x1="442.77" y1="99.9" x2="442.77" y2="102.7" stroke="#231f20" stroke-width="1.1"/>
<line x1="450.60" y1="99.9" x2="450.60" y2="102.7" stroke="#231f20" stroke-width="1.1"/>
<line x1="458.43" y1="99.9" x2="458.43" y2="105.4" stroke="#231f20" stroke-width="1.1"/>
<line x1="466.27" y1="99.9" x2="466.27" y2="102.7" stroke="#231f20" stroke-width="1.1"/>
<line x1="474.10" y1="99.9" x2="474.10" y2="102.7" stroke="#231f20" stroke-width="1.1"/>
<line x1="481.93" y1="99.9" x2="481.93" y2="102.7" stroke="#231f20" stroke-width="1.1"/>
<line x1="489.77" y1="99.9" x2="489.77" y2="105.4" stroke="#231f20" stroke-width="1.1"/>
<line x1="497.60" y1="99.9" x2="497.60" y2="102.7" stroke="#231f20" stroke-width="1.1"/>
<line x1="505.43" y1="99.9" x2="505.43" y2="102.7" stroke="#231f20" stroke-width="1.1"/>
<line x1="513.27" y1="99.9" x2="513.27" y2="102.7" stroke="#231f20" stroke-width="1.1"/>
<line x1="521.10" y1="99.9" x2="521.10" y2="105.4" stroke="#231f20" stroke-width="1.1"/>
<line x1="528.93" y1="99.9" x2="528.93" y2="102.7" stroke="#231f20" stroke-width="1.1"/>
<text x="425.90" y="116.70" font-size="10.5" font-weight="normal" fill="#231f20" text-anchor="middle">-60</text>
<text x="457.30" y="116.70" font-size="10.5" font-weight="normal" fill="#231f20" text-anchor="middle">-61</text>
<text x="488.60" y="116.70" font-size="10.5" font-weight="normal" fill="#231f20" text-anchor="middle">-62</text>
<text x="519.90" y="116.70" font-size="10.5" font-weight="normal" fill="#231f20" text-anchor="middle">-63</text>
<text x="446.50" y="129.50" font-size="10.5" fill="#231f20"><tspan font-family="Liberation Serif" font-size="11">&#948;</tspan><tspan font-size="7.5" dy="-4" dx="2">19</tspan><tspan dy="4" dx="0.6">F (ppm)</tspan></text>
<text x="419.70" y="31.60" font-size="10.7" font-weight="bold" fill="#f88b14">S<tspan font-size="9.5" dy="2.8">2</tspan><tspan dy="-2.8"> saturation</tspan></text>
<line x1="455.6" y1="36.1" x2="455.6" y2="42.4" stroke="#f88b14" stroke-width="1.2"/>
<path d="M453.70,41.90 L457.50,41.90 L455.60,46.10 Z" fill="#f88b14"/>
<text x="460.70" y="20.80" font-size="10.7" font-weight="bold" fill="#2896cf">S<tspan font-size="9.5" dy="2.8">1</tspan><tspan dy="-2.8"> detection</tspan></text>
<line x1="490.2" y1="26.7" x2="490.2" y2="32.3" stroke="#2896cf" stroke-width="1.2"/>
<path d="M488.30,31.80 L492.10,31.80 L490.20,36.00 Z" fill="#2896cf"/>
<text x="525.00" y="58.50" font-size="10.5" font-weight="bold" fill="#6e6e6e" text-anchor="middle">Control</text>
<text x="525.00" y="70.60" font-size="10.5" font-weight="bold" fill="#6e6e6e" text-anchor="middle">saturation</text>
<line x1="528.1" y1="72.3" x2="528.1" y2="79.0" stroke="#777" stroke-width="1.0"/>
<path d="M526.50,78.50 L529.70,78.50 L528.10,82.30 Z" fill="#777"/>
<path d="M532.4,39.9 L543,39.9 L543,37.1 L551,41.4 L543,45.699999999999996 L543,42.9 L532.4,42.9 Z" fill="#9a9a9a"/>
<line x1="588.1" y1="29.700000000000003" x2="588.1" y2="100.8" stroke="#231f20" stroke-width="1.2"/>
<line x1="587.5" y1="98.2" x2="670.9000000000001" y2="98.2" stroke="#231f20" stroke-width="1.2"/>
<line x1="585.1" y1="85.70" x2="588.1" y2="85.70" stroke="#231f20" stroke-width="1.1"/>
<text x="583.80" y="90.20" font-size="10" font-weight="normal" fill="#231f20" text-anchor="end">0.2</text>
<line x1="585.1" y1="73.20" x2="588.1" y2="73.20" stroke="#231f20" stroke-width="1.1"/>
<text x="583.80" y="77.70" font-size="10" font-weight="normal" fill="#231f20" text-anchor="end">0.4</text>
<line x1="585.1" y1="60.70" x2="588.1" y2="60.70" stroke="#231f20" stroke-width="1.1"/>
<text x="583.80" y="65.20" font-size="10" font-weight="normal" fill="#231f20" text-anchor="end">0.6</text>
<line x1="585.1" y1="48.20" x2="588.1" y2="48.20" stroke="#231f20" stroke-width="1.1"/>
<text x="583.80" y="52.70" font-size="10" font-weight="normal" fill="#231f20" text-anchor="end">0.8</text>
<line x1="585.1" y1="35.70" x2="588.1" y2="35.70" stroke="#231f20" stroke-width="1.1"/>
<text x="583.80" y="40.20" font-size="10" font-weight="normal" fill="#231f20" text-anchor="end">1.0</text>
<line x1="604.54" y1="98.2" x2="604.54" y2="100.8" stroke="#231f20" stroke-width="1.1"/>
<text transform="translate(608.44,102.50) rotate(-90)" font-size="10.9" fill="#231f20" text-anchor="end">0.2</text>
<line x1="620.98" y1="98.2" x2="620.98" y2="100.8" stroke="#231f20" stroke-width="1.1"/>
<text transform="translate(624.88,102.50) rotate(-90)" font-size="10.9" fill="#231f20" text-anchor="end">0.4</text>
<line x1="637.42" y1="98.2" x2="637.42" y2="100.8" stroke="#231f20" stroke-width="1.1"/>
<text transform="translate(641.32,102.50) rotate(-90)" font-size="10.9" fill="#231f20" text-anchor="end">0.6</text>
<line x1="653.86" y1="98.2" x2="653.86" y2="100.8" stroke="#231f20" stroke-width="1.1"/>
<text transform="translate(657.76,102.50) rotate(-90)" font-size="10.9" fill="#231f20" text-anchor="end">0.8</text>
<line x1="670.30" y1="98.2" x2="670.30" y2="100.8" stroke="#231f20" stroke-width="1.1"/>
<text transform="translate(674.20,102.50) rotate(-90)" font-size="10.9" fill="#231f20" text-anchor="end">1.0</text>
<text transform="translate(564.00,72.50) rotate(-90)" font-size="10.5" fill="#231f20">I/I<tspan font-size="10.5" dy="2.0">0</tspan></text>
<text x="588.50" y="127.80" font-size="10.7" font-weight="normal" fill="#231f20" text-anchor="start">saturation time (s)</text>
<text x="598.40" y="93.30" font-size="10.5" fill="#231f20"><tspan font-style="italic">k</tspan><tspan font-size="6.1" dy="2.3">12</tspan><tspan dy="-2.3"> = 0.14 s</tspan><tspan font-size="5.9" dy="-4.1">-1</tspan></text>
<path d="M588.10,35.70 L590.15,36.59 L592.21,37.44 L594.26,38.23 L596.32,38.98 L598.38,39.69 L600.43,40.36 L602.49,40.99 L604.54,41.59 L606.60,42.15 L608.65,42.69 L610.71,43.19 L612.76,43.66 L614.82,44.11 L616.87,44.53 L618.93,44.93 L620.98,45.31 L623.04,45.67 L625.09,46.00 L627.14,46.32 L629.20,46.62 L631.25,46.90 L633.31,47.17 L635.37,47.42 L637.42,47.66 L639.48,47.88 L641.53,48.09 L643.59,48.29 L645.64,48.48 L647.70,48.66 L649.75,48.83 L651.81,48.99 L653.86,49.14 L655.91,49.28 L657.97,49.42 L660.02,49.54 L662.08,49.66 L664.13,49.77 L666.19,49.88 L668.25,49.98 L670.30,50.08" fill="none" stroke="#4a4a4a" stroke-width="1.25"/>
<path d="M588.10,35.70 L590.15,36.79 L592.21,37.82 L594.26,38.80 L596.32,39.73 L598.38,40.60 L600.43,41.43 L602.49,42.21 L604.54,42.96 L606.60,43.66 L608.65,44.32 L610.71,44.95 L612.76,45.55 L614.82,46.11 L616.87,46.65 L618.93,47.15 L620.98,47.63 L623.04,48.08 L625.09,48.51 L627.14,48.91 L629.20,49.30 L631.25,49.66 L633.31,50.01 L635.37,50.33 L637.42,50.64 L639.48,50.93 L641.53,51.21 L643.59,51.47 L645.64,51.71 L647.70,51.95 L649.75,52.17 L651.81,52.38 L653.86,52.58 L655.91,52.76 L657.97,52.94 L660.02,53.11 L662.08,53.27 L664.13,53.42 L666.19,53.56 L668.25,53.70 L670.30,53.83" fill="none" stroke="#f88b14" stroke-width="2.0"/>
<path d="M588.10,35.70 L590.15,35.96 L592.21,36.20 L594.26,36.43 L596.32,36.65 L598.38,36.85 L600.43,37.04 L602.49,37.22 L604.54,37.39 L606.60,37.55 L608.65,37.69 L610.71,37.83 L612.76,37.96 L614.82,38.09 L616.87,38.20 L618.93,38.31 L620.98,38.41 L623.04,38.51 L625.09,38.60 L627.14,38.68 L629.20,38.76 L631.25,38.84 L633.31,38.91 L635.37,38.97 L637.42,39.03 L639.48,39.09 L641.53,39.14 L643.59,39.20 L645.64,39.24 L647.70,39.29 L649.75,39.33 L651.81,39.37 L653.86,39.41 L655.91,39.44 L657.97,39.48 L660.02,39.51 L662.08,39.54 L664.13,39.56 L666.19,39.59 L668.25,39.61 L670.30,39.64" fill="none" stroke="#2896cf" stroke-width="1.3" stroke-dasharray="2.4 1.5"/>
<circle cx="596.32" cy="33.83" r="1.9" fill="#2896cf"/>
<circle cx="604.54" cy="37.58" r="1.9" fill="#2896cf"/>
<circle cx="612.76" cy="40.08" r="1.9" fill="#2896cf"/>
<circle cx="620.98" cy="36.64" r="1.9" fill="#2896cf"/>
<circle cx="637.42" cy="40.70" r="1.9" fill="#2896cf"/>
<circle cx="653.86" cy="37.26" r="1.9" fill="#2896cf"/>
<circle cx="670.30" cy="39.14" r="1.9" fill="#2896cf"/>
<circle cx="592.21" cy="38.20" r="1.9" fill="#f88b14"/>
<circle cx="596.32" cy="38.51" r="1.9" fill="#f88b14"/>
<circle cx="604.54" cy="43.83" r="1.9" fill="#f88b14"/>
<circle cx="612.76" cy="45.70" r="1.9" fill="#f88b14"/>
<circle cx="620.98" cy="47.58" r="1.9" fill="#f88b14"/>
<circle cx="637.42" cy="51.95" r="1.9" fill="#f88b14"/>
<circle cx="653.86" cy="52.58" r="1.9" fill="#f88b14"/>
<circle cx="670.30" cy="53.20" r="1.9" fill="#f88b14"/>
<circle cx="596.32" cy="40.70" r="1.7" fill="none" stroke="#444" stroke-width="0.9"/>
<circle cx="604.54" cy="42.58" r="1.7" fill="none" stroke="#444" stroke-width="0.9"/>
<circle cx="612.76" cy="41.95" r="1.7" fill="none" stroke="#444" stroke-width="0.9"/>
<circle cx="637.42" cy="47.58" r="1.7" fill="none" stroke="#444" stroke-width="0.9"/>
<circle cx="653.86" cy="51.01" r="1.7" fill="none" stroke="#444" stroke-width="0.9"/>
<circle cx="670.30" cy="49.76" r="1.7" fill="none" stroke="#444" stroke-width="0.9"/>
<circle cx="588.10" cy="35.70" r="2" fill="#f88b14"/>
<path d="M421.70,239.56 L422.70,238.90 L423.70,238.95 L424.70,239.92 L425.70,240.82 L426.70,241.13 L427.70,241.25 L428.70,241.38 L429.70,241.12 L430.70,240.74 L431.70,239.74 L432.70,238.70 L433.70,238.42 L434.70,238.90 L435.70,239.99 L436.70,240.77 L437.70,240.19 L438.70,239.74 L439.70,239.37 L440.70,239.02 L441.70,238.41 L442.70,237.49 L443.70,236.71 L444.70,236.93 L445.70,237.12 L446.70,236.83 L447.70,236.06 L448.70,235.37 L449.70,235.36 L450.70,235.20 L451.70,234.77 L452.70,233.74 L453.70,232.59 L454.70,230.92 L455.70,228.95 L456.70,226.36 L457.70,223.37 L458.70,219.73 L459.70,215.40 L460.70,210.36 L461.70,204.67 L462.70,199.31 L463.70,195.16 L464.70,199.89 L465.70,206.07 L466.70,211.94 L467.70,216.48 L468.70,219.26 L469.70,221.29 L470.70,222.70 L471.70,223.71 L472.70,224.42 L473.70,225.15 L474.70,225.74 L475.70,226.57 L476.70,227.52 L477.70,228.35 L478.70,228.97 L479.70,229.47 L480.70,230.01 L481.70,230.68 L482.70,231.45 L483.70,232.23 L484.70,232.10 L485.70,231.37 L486.70,229.90 L487.70,228.00 L488.70,227.36 L489.70,226.28 L490.70,224.90 L491.70,222.80 L492.70,220.17 L493.70,216.37 L494.70,211.56 L495.70,206.05 L496.70,199.09 L497.70,191.42 L498.70,186.28 L499.70,187.86 L500.70,194.90 L501.70,202.81 L502.70,209.32 L503.70,214.18 L504.70,217.76 L505.70,220.44 L506.70,222.32 L507.70,223.76 L508.70,225.93 L509.70,228.04 L510.70,229.90 L511.70,231.10 L512.70,231.80 L513.70,232.30 L514.70,233.47 L515.70,234.64 L516.70,235.79 L517.70,235.74 L518.70,235.47 L519.70,236.63 L520.70,237.94 L521.70,237.93 L522.70,237.53 L523.70,237.34 L524.70,237.53 L525.70,237.36 L526.70,236.62 L527.70,235.97 L528.70,235.42 L529.70,236.39 L530.70,237.37 L531.70,238.21 L532.70,237.25 L533.70,236.18 L534.70,235.60 L535.70,235.65 L536.70,235.62 L537.70,236.04 L538.70,236.97 L539.70,237.95" fill="none" stroke="#9c9a1c" stroke-width="1.55" stroke-linejoin="round" stroke-linecap="round"/>
<line x1="421.9" y1="245.5" x2="540.4" y2="245.5" stroke="#231f20" stroke-width="1.4"/>
<line x1="427.66" y1="245.5" x2="427.66" y2="248.3" stroke="#231f20" stroke-width="1.1"/>
<line x1="435.50" y1="245.5" x2="435.50" y2="251.0" stroke="#231f20" stroke-width="1.1"/>
<line x1="443.34" y1="245.5" x2="443.34" y2="248.3" stroke="#231f20" stroke-width="1.1"/>
<line x1="451.18" y1="245.5" x2="451.18" y2="248.3" stroke="#231f20" stroke-width="1.1"/>
<line x1="459.03" y1="245.5" x2="459.03" y2="248.3" stroke="#231f20" stroke-width="1.1"/>
<line x1="466.87" y1="245.5" x2="466.87" y2="251.0" stroke="#231f20" stroke-width="1.1"/>
<line x1="474.71" y1="245.5" x2="474.71" y2="248.3" stroke="#231f20" stroke-width="1.1"/>
<line x1="482.55" y1="245.5" x2="482.55" y2="248.3" stroke="#231f20" stroke-width="1.1"/>
<line x1="490.39" y1="245.5" x2="490.39" y2="248.3" stroke="#231f20" stroke-width="1.1"/>
<line x1="498.23" y1="245.5" x2="498.23" y2="251.0" stroke="#231f20" stroke-width="1.1"/>
<line x1="506.08" y1="245.5" x2="506.08" y2="248.3" stroke="#231f20" stroke-width="1.1"/>
<line x1="513.92" y1="245.5" x2="513.92" y2="248.3" stroke="#231f20" stroke-width="1.1"/>
<line x1="521.76" y1="245.5" x2="521.76" y2="248.3" stroke="#231f20" stroke-width="1.1"/>
<line x1="529.60" y1="245.5" x2="529.60" y2="251.0" stroke="#231f20" stroke-width="1.1"/>
<line x1="537.44" y1="245.5" x2="537.44" y2="248.3" stroke="#231f20" stroke-width="1.1"/>
<text x="434.30" y="262.00" font-size="10.5" font-weight="normal" fill="#231f20" text-anchor="middle">-60</text>
<text x="466.00" y="262.00" font-size="10.5" font-weight="normal" fill="#231f20" text-anchor="middle">-61</text>
<text x="497.10" y="262.00" font-size="10.5" font-weight="normal" fill="#231f20" text-anchor="middle">-62</text>
<text x="528.40" y="262.00" font-size="10.5" font-weight="normal" fill="#231f20" text-anchor="middle">-63</text>
<text x="456.20" y="275.50" font-size="10.5" fill="#231f20"><tspan font-family="Liberation Serif" font-size="11">&#948;</tspan><tspan font-size="7.5" dy="-4" dx="2">19</tspan><tspan dy="4" dx="0.6">F (ppm)</tspan></text>
<text x="468.60" y="167.00" font-size="10.7" font-weight="bold" fill="#f88b14">S<tspan font-size="9.5" dy="2.8">1</tspan><tspan dy="-2.8"> saturation</tspan></text>
<line x1="499.1" y1="174.1" x2="499.1" y2="180.20000000000002" stroke="#f88b14" stroke-width="1.2"/>
<path d="M497.20,179.70 L501.00,179.70 L499.10,183.90 Z" fill="#f88b14"/>
<text x="428.90" y="179.20" font-size="10.7" font-weight="bold" fill="#2896cf">S<tspan font-size="9.5" dy="2.8">2</tspan><tspan dy="-2.8"> detection</tspan></text>
<line x1="463.8" y1="183.6" x2="463.8" y2="188.9" stroke="#2896cf" stroke-width="1.2"/>
<path d="M461.90,188.40 L465.70,188.40 L463.80,192.60 Z" fill="#2896cf"/>
<text x="426.80" y="210.80" font-size="10.5" font-weight="bold" fill="#6e6e6e" text-anchor="middle">Control</text>
<text x="426.80" y="222.30" font-size="10.5" font-weight="bold" fill="#6e6e6e" text-anchor="middle">saturation</text>
<line x1="422.9" y1="224.9" x2="422.9" y2="231.5" stroke="#777" stroke-width="1.0"/>
<path d="M421.30,231.00 L424.50,231.00 L422.90,234.80 Z" fill="#777"/>
<path d="M532.3,185.7 L543,185.7 L543,182.89999999999998 L551,187.2 L543,191.5 L543,188.7 L532.3,188.7 Z" fill="#9a9a9a"/>
<line x1="587.2" y1="176.4" x2="587.2" y2="247.5" stroke="#231f20" stroke-width="1.2"/>
<line x1="586.6" y1="244.9" x2="670.7" y2="244.9" stroke="#231f20" stroke-width="1.2"/>
<line x1="584.2" y1="232.32" x2="587.2" y2="232.32" stroke="#231f20" stroke-width="1.1"/>
<text x="582.90" y="236.82" font-size="10" font-weight="normal" fill="#231f20" text-anchor="end">0.2</text>
<line x1="584.2" y1="219.74" x2="587.2" y2="219.74" stroke="#231f20" stroke-width="1.1"/>
<text x="582.90" y="224.24" font-size="10" font-weight="normal" fill="#231f20" text-anchor="end">0.4</text>
<line x1="584.2" y1="207.16" x2="587.2" y2="207.16" stroke="#231f20" stroke-width="1.1"/>
<text x="582.90" y="211.66" font-size="10" font-weight="normal" fill="#231f20" text-anchor="end">0.6</text>
<line x1="584.2" y1="194.58" x2="587.2" y2="194.58" stroke="#231f20" stroke-width="1.1"/>
<text x="582.90" y="199.08" font-size="10" font-weight="normal" fill="#231f20" text-anchor="end">0.8</text>
<line x1="584.2" y1="182.00" x2="587.2" y2="182.00" stroke="#231f20" stroke-width="1.1"/>
<text x="582.90" y="186.50" font-size="10" font-weight="normal" fill="#231f20" text-anchor="end">1.0</text>
<line x1="603.78" y1="244.9" x2="603.78" y2="247.5" stroke="#231f20" stroke-width="1.1"/>
<text transform="translate(607.68,249.20) rotate(-90)" font-size="10.9" fill="#231f20" text-anchor="end">0.2</text>
<line x1="620.36" y1="244.9" x2="620.36" y2="247.5" stroke="#231f20" stroke-width="1.1"/>
<text transform="translate(624.26,249.20) rotate(-90)" font-size="10.9" fill="#231f20" text-anchor="end">0.4</text>
<line x1="636.94" y1="244.9" x2="636.94" y2="247.5" stroke="#231f20" stroke-width="1.1"/>
<text transform="translate(640.84,249.20) rotate(-90)" font-size="10.9" fill="#231f20" text-anchor="end">0.6</text>
<line x1="653.52" y1="244.9" x2="653.52" y2="247.5" stroke="#231f20" stroke-width="1.1"/>
<text transform="translate(657.42,249.20) rotate(-90)" font-size="10.9" fill="#231f20" text-anchor="end">0.8</text>
<line x1="670.10" y1="244.9" x2="670.10" y2="247.5" stroke="#231f20" stroke-width="1.1"/>
<text transform="translate(674.00,249.20) rotate(-90)" font-size="10.9" fill="#231f20" text-anchor="end">1.0</text>
<text transform="translate(563.90,217.60) rotate(-90)" font-size="10.5" fill="#231f20">I/I<tspan font-size="10.5" dy="2.0">0</tspan></text>
<text x="588.00" y="275.40" font-size="10.7" font-weight="normal" fill="#231f20" text-anchor="start">saturation time (s)</text>
<text x="598.00" y="238.00" font-size="10.5" fill="#231f20"><tspan font-style="italic">k</tspan><tspan font-size="6.1" dy="2.3">21</tspan><tspan dy="-2.3"> = 0.26 s</tspan><tspan font-size="5.9" dy="-4.1">-1</tspan></text>
<path d="M587.20,182.00 L589.27,183.47 L591.35,184.84 L593.42,186.12 L595.49,187.32 L597.56,188.43 L599.63,189.46 L601.71,190.43 L603.78,191.33 L605.85,192.17 L607.93,192.96 L610.00,193.69 L612.07,194.37 L614.14,195.00 L616.22,195.60 L618.29,196.15 L620.36,196.66 L622.43,197.14 L624.51,197.59 L626.58,198.01 L628.65,198.40 L630.72,198.76 L632.80,199.10 L634.87,199.42 L636.94,199.71 L639.01,199.98 L641.09,200.24 L643.16,200.48 L645.23,200.70 L647.30,200.91 L649.38,201.10 L651.45,201.28 L653.52,201.45 L655.59,201.61 L657.67,201.75 L659.74,201.89 L661.81,202.01 L663.88,202.13 L665.96,202.24 L668.03,202.35 L670.10,202.44" fill="none" stroke="#4a4a4a" stroke-width="1.25"/>
<path d="M587.20,182.00 L589.27,183.79 L591.35,185.44 L593.42,186.97 L595.49,188.37 L597.56,189.67 L599.63,190.87 L601.71,191.98 L603.78,193.00 L605.85,193.95 L607.93,194.82 L610.00,195.62 L612.07,196.37 L614.14,197.05 L616.22,197.68 L618.29,198.27 L620.36,198.81 L622.43,199.30 L624.51,199.76 L626.58,200.19 L628.65,200.58 L630.72,200.94 L632.80,201.27 L634.87,201.58 L636.94,201.87 L639.01,202.13 L641.09,202.37 L643.16,202.59 L645.23,202.80 L647.30,202.99 L649.38,203.17 L651.45,203.33 L653.52,203.48 L655.59,203.62 L657.67,203.74 L659.74,203.86 L661.81,203.97 L663.88,204.07 L665.96,204.16 L668.03,204.25 L670.10,204.33" fill="none" stroke="#f88b14" stroke-width="2.0"/>
<path d="M587.20,182.00 L589.27,182.32 L591.35,182.62 L593.42,182.88 L595.49,183.12 L597.56,183.34 L599.63,183.53 L601.71,183.71 L603.78,183.87 L605.85,184.02 L607.93,184.15 L610.00,184.27 L612.07,184.37 L614.14,184.47 L616.22,184.56 L618.29,184.64 L620.36,184.71 L622.43,184.78 L624.51,184.83 L626.58,184.89 L628.65,184.94 L630.72,184.98 L632.80,185.02 L634.87,185.06 L636.94,185.09 L639.01,185.12 L641.09,185.14 L643.16,185.17 L645.23,185.19 L647.30,185.21 L649.38,185.23 L651.45,185.24 L653.52,185.26 L655.59,185.27 L657.67,185.28 L659.74,185.29 L661.81,185.30 L663.88,185.31 L665.96,185.32 L668.03,185.33 L670.10,185.33" fill="none" stroke="#2896cf" stroke-width="1.3" stroke-dasharray="2.4 1.5"/>
<circle cx="591.35" cy="182.00" r="1.9" fill="#2896cf"/>
<circle cx="595.49" cy="182.31" r="1.9" fill="#2896cf"/>
<circle cx="603.78" cy="186.09" r="1.9" fill="#2896cf"/>
<circle cx="612.07" cy="182.94" r="1.9" fill="#2896cf"/>
<circle cx="620.36" cy="185.46" r="1.9" fill="#2896cf"/>
<circle cx="636.94" cy="185.15" r="1.9" fill="#2896cf"/>
<circle cx="653.52" cy="187.66" r="1.9" fill="#2896cf"/>
<circle cx="670.10" cy="182.94" r="1.9" fill="#2896cf"/>
<circle cx="591.35" cy="190.81" r="1.9" fill="#f88b14"/>
<circle cx="595.49" cy="185.77" r="1.9" fill="#f88b14"/>
<circle cx="603.78" cy="195.84" r="1.9" fill="#f88b14"/>
<circle cx="612.07" cy="197.73" r="1.9" fill="#f88b14"/>
<circle cx="620.36" cy="200.24" r="1.9" fill="#f88b14"/>
<circle cx="636.94" cy="201.50" r="1.9" fill="#f88b14"/>
<circle cx="653.52" cy="204.64" r="1.9" fill="#f88b14"/>
<circle cx="670.10" cy="204.33" r="1.9" fill="#f88b14"/>
<circle cx="603.78" cy="191.44" r="1.7" fill="none" stroke="#444" stroke-width="0.9"/>
<circle cx="612.07" cy="195.21" r="1.7" fill="none" stroke="#444" stroke-width="0.9"/>
<circle cx="620.36" cy="196.47" r="1.7" fill="none" stroke="#444" stroke-width="0.9"/>
<circle cx="636.94" cy="198.35" r="1.7" fill="none" stroke="#444" stroke-width="0.9"/>
<circle cx="653.52" cy="198.98" r="1.7" fill="none" stroke="#444" stroke-width="0.9"/>
<circle cx="670.10" cy="202.13" r="1.7" fill="none" stroke="#444" stroke-width="0.9"/>
<circle cx="587.20" cy="182.00" r="2" fill="#f88b14"/>
</svg>
</body></html>
